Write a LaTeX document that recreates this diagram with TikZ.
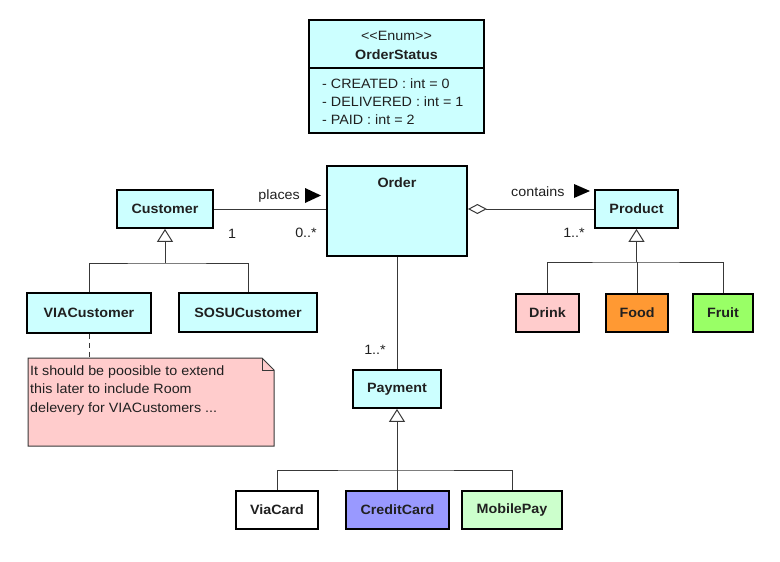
\documentclass[tikz,border=0pt]{standalone}
\usepackage{fontspec}
\setmainfont{Liberation Sans}[FakeStretch=1.06]
\usetikzlibrary{arrows.meta}
\definecolor{cls}{HTML}{CCFFFF}
\definecolor{pinkf}{HTML}{FFCCCC}
\definecolor{orangef}{HTML}{FF9933}
\definecolor{greenf}{HTML}{99FF66}
\definecolor{bluef}{HTML}{9999FF}
\definecolor{mintf}{HTML}{CCFFCC}
\definecolor{ink}{HTML}{202020}
\definecolor{linec}{HTML}{383838}
\begin{document}
\begin{tikzpicture}[x=1pt,y=-1pt,
  every node/.style={font=\fontsize{13.5}{15}\selectfont, text=ink, inner sep=0pt},
  classbox/.style={draw=black, line width=1.8pt, fill=cls, font=\fontsize{13.5}{15}\selectfont\bfseries, minimum height=38pt},
  conn/.style={draw=linec, line width=1pt},
  gen/.style={conn, -{Triangle[open, length=13pt, width=16pt, fill=white]}},
  lbl/.style={font=\fontsize{13.5}{15}\selectfont, text=ink},
]
\useasboundingbox (0,0) rectangle (780,562);
\fill[white] (0,0) rectangle (780,562);

% enum
\node[classbox, minimum width=175pt, minimum height=113pt] (enum) at (396.5,76.5) {};
\coordinate (divl) at (309,68);
\coordinate (divr) at (484,68);
\draw[black, line width=1.2pt] (divl) -- (divr);
\node (stereo) at (396.5,36) {<\kern0pt<Enum>\kern0pt>};
\node[font=\fontsize{13.5}{15}\selectfont\bfseries] (enumname) at (396.5,55) {OrderStatus};
\node[anchor=west] (a1) at (322,84) {- CREATED : int = 0};
\node[anchor=west] (a2) at (322,102) {- DELIVERED : int = 1};
\node[anchor=west] (a3) at (322,120) {- PAID : int = 2};

% classes
\node[classbox, minimum width=96pt] (customer) at (165,209) {Customer};
\node[classbox, minimum width=140pt, minimum height=90pt] (order) at (397,211) {};
\node[font=\fontsize{13.5}{15}\selectfont\bfseries] (ordername) at (397,183) {Order};
\node[classbox, minimum width=83pt] (product) at (636.5,209) {Product};
\node[classbox, minimum width=124pt, minimum height=40pt] (via) at (89,313) {VIACustomer};
\node[classbox, minimum width=138pt, minimum height=39pt] (sosu) at (248,312.5) {SOSUCustomer};
\node[classbox, minimum width=63pt, fill=pinkf] (drink) at (547.5,313) {Drink};
\node[classbox, minimum width=62pt, fill=orangef] (food) at (637,313) {Food};
\node[classbox, minimum width=60pt, fill=greenf] (fruit) at (723,313) {Fruit};
\node[classbox, minimum width=88pt] (payment) at (397,389) {Payment};
\node[classbox, minimum width=82pt, fill=white] (viacard) at (277,510) {ViaCard};
\node[classbox, minimum width=103pt, fill=bluef] (credit) at (397.5,510) {CreditCard};
\node[classbox, minimum width=100pt, fill=mintf] (mobile) at (512,510) {MobilePay};

% associations
\draw[conn] (customer.east) -- (customer.east -| order.west);
\draw[conn, {Diamond[open, length=19pt, width=10pt, fill=white]}-] (order.east |- product.west) -- (product.west);
\draw[conn] (order.south) -- (payment.north);

\node[lbl, anchor=east] (places) at (300,196) {places};
\fill[black] (305,188) -- (321,195.5) -- (305,203) -- cycle;
\node[lbl, anchor=west] (contains) at (511,192) {contains};
\fill[black] (574,184) -- (590,191) -- (574,198) -- cycle;
\node[lbl] (m1) at (232,234) {1};
\node[lbl] (m2) at (306,233) {0..*};
\node[lbl] (m3) at (574,233) {1..*};
\node[lbl] (m4) at (375,350) {1..*};

% generalizations
\coordinate (cj) at (165,263);
\draw[gen] (cj) -- (customer.south);
\draw[conn] (via.north) |- (cj) -| (sosu.north);

\coordinate (pj) at (636.5,262);
\draw[gen] (pj) -- (product.south);
\draw[conn] (drink.north) |- (pj) -| (fruit.north);
\draw[conn] (food.north) -- (food.north |- pj);

\coordinate (payj) at (397,470);
\draw[gen] (payj) -- (payment.south);
\draw[conn] (viacard.north) |- (payj) -| (mobile.north);
\draw[conn] (credit.north) -- (credit.north |- payj);

% note
\draw[draw=linec, fill=pinkf, line width=1pt] (28,358) -- (262,358) -- (274,370) -- (274,446) -- (28,446) -- cycle;
\draw[draw=linec, line width=1pt] (262,358) -- (262,370) -- (274,370);
\node[anchor=north west, align=left, font=\fontsize{13.5}{18.5}\selectfont] (note) at (30,365.5) {It should be poosible to extend\\this later to include Room\\delevery for VIACustomers ...};
\coordinate (notetop) at (89,358);
\draw[conn, dash pattern=on 5pt off 4pt] (via.south) -- (notetop);
\end{tikzpicture}
\end{document}
